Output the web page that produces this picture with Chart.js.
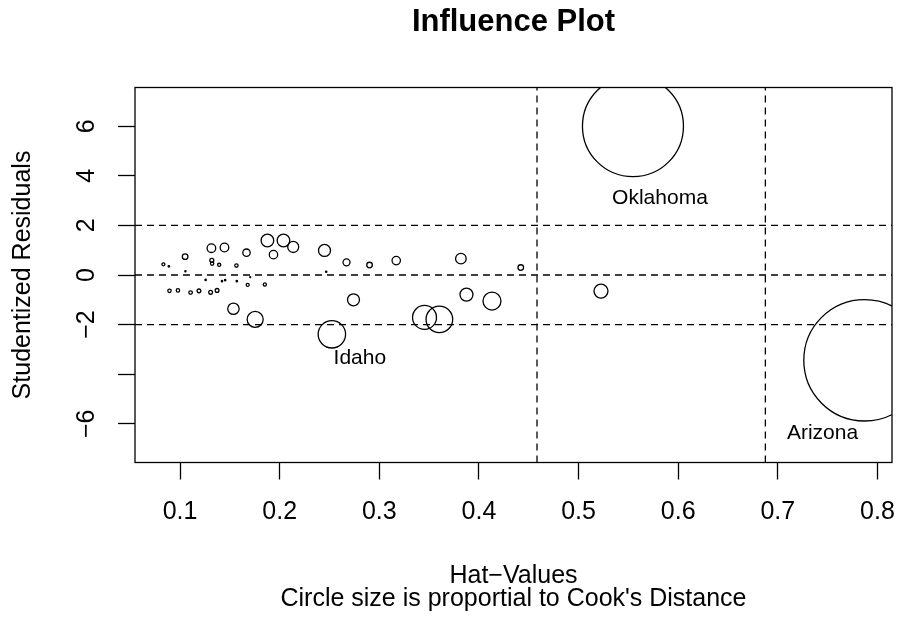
<!DOCTYPE html>
<html>
<head>
<meta charset="utf-8">
<script src="https://cdn.jsdelivr.net/npm/chart.js@4.4.0/dist/chart.umd.min.js"></script>
<style>
html, body { margin: 0; padding: 0; background: #ffffff; }
#wrap { width: 901px; height: 628px; position: relative; }
</style>
</head>
<body>
<div id="wrap"><canvas id="c" width="901" height="628"></canvas></div>
<script>
// ---- data ----
const hatValues = [
  0.0833, 0.0888, 0.0894, 0.0979, 0.1051, 0.1054, 0.1106, 0.1190, 0.1257, 0.1307,
  0.1315, 0.1319, 0.1322, 0.1372, 0.1393, 0.1421, 0.1446, 0.1453, 0.1536, 0.1566,
  0.1570, 0.1667, 0.1679, 0.1704, 0.1754, 0.1851, 0.1877, 0.1938, 0.2038, 0.2136,
  0.2450, 0.2467, 0.2524, 0.2671, 0.2741, 0.2902, 0.3170, 0.3454, 0.3603, 0.3819,
  0.3875, 0.4131, 0.4420, 0.5225, 0.5546, 0.7870
];
const studentizedResiduals = [
  0.43, 0.35, -0.64, -0.62, 0.74, 0.15, -0.71, -0.64, -0.20, -0.70,
  1.08, 0.59, 0.46, -0.62, 0.41, -0.25, 1.11, -0.21, -1.36, 0.38,
  -0.25, 0.90, -0.40, -0.09, -1.79, -0.38, 1.39, 0.82, 1.39, 1.13,
  0.99, 0.13, -2.39, 0.51, -1.00, 0.40, 0.58, -1.71, -1.79, 0.66,
  -0.79, -1.05, 0.30, -0.65, 6.00, -3.44
];
const cooksDistance = [
  0.0019, 0.0005, 0.0024, 0.0024, 0.0066, 0.0003, 0.0027, 0.0030, 0.0004, 0.0030,
  0.0155, 0.0033, 0.0024, 0.0030, 0.0021, 0.0004, 0.0155, 0.0004, 0.0272, 0.0024,
  0.0004, 0.0114, 0.0019, 0.0002, 0.0535, 0.0021, 0.0332, 0.0147, 0.0332, 0.0253,
  0.0301, 0.0004, 0.1570, 0.0102, 0.0301, 0.0066, 0.0147, 0.1200, 0.1480, 0.0235,
  0.0353, 0.0677, 0.0066, 0.0410, 2.1320, 3.0800
];
const pointNames = [
  '', '', '', '', '', '', '', '', '', '',
  '', '', '', '', '', '', '', '', '', '',
  '', '', '', '', '', '', '', '', '', '',
  '', '', 'Idaho', '', '', '', '', '', '', '',
  '', '', '', '', 'Oklahoma', 'Arizona'
];
const xTickValues = [0.1, 0.2, 0.3, 0.4, 0.5, 0.6, 0.7, 0.8];
const yTickValues = [-6, -4, -2, 0, 2, 4, 6];
const yTickLabels = ['\u22126', '', '\u22122', '0', '2', '4', '6'];
const hatCutoffs = [0.4583, 0.6875];
const residualCutoffs = [-2, 0, 2];
const chartTitle = 'Influence Plot';
const xAxisTitle = ['Hat\u2212Values', "Circle size is proportial to Cook's Distance"];
const yAxisTitle = 'Studentized Residuals';

// ---- styling / layout ----
const FONT = '"Liberation Sans", Arial, Helvetica, sans-serif';
const X_MIN = 0.0548, X_MAX = 0.8146, Y_MIN = -7.56, Y_MAX = 7.56;
const MAX_RADIUS = 60.7;
const labelOffsets = { Oklahoma: [27, 72], Arizona: [-42, 73], Idaho: [28, 24] };
const LW = 1.3;

const maxCook = Math.max(...cooksDistance);
const bubbles = hatValues.map((h, i) => ({
  x: h, y: studentizedResiduals[i],
  r: MAX_RADIUS * Math.sqrt(cooksDistance[i] / maxCook)
}));

const refLine = (pts) => ({
  type: 'line', data: pts, borderColor: '#000', borderWidth: 1.3,
  borderDash: [7, 5], pointRadius: 0, fill: false, tension: 0, clip: 0, order: 2
});
const refDatasets = [
  ...hatCutoffs.map(v => refLine([{x: v, y: Y_MIN}, {x: v, y: Y_MAX}])),
  ...residualCutoffs.map(v => refLine([{x: X_MIN, y: v}, {x: X_MAX, y: v}]))
];

const boxPlugin = {
  id: 'box',
  afterDraw(chart) {
    const a = chart.chartArea, ctx = chart.ctx;
    ctx.save();
    ctx.strokeStyle = '#000';
    ctx.lineWidth = LW;
    ctx.strokeRect(a.left, a.top, a.right - a.left, a.bottom - a.top);
    ctx.restore();
  }
};
const labelPlugin = {
  id: 'pointLabels',
  afterDatasetsDraw(chart) {
    const meta = chart.getDatasetMeta(0);
    const ctx = chart.ctx;
    ctx.save();
    ctx.fillStyle = '#000';
    ctx.font = '21px ' + FONT;
    ctx.textAlign = 'center';
    ctx.textBaseline = 'middle';
    pointNames.forEach((name, i) => {
      if (!name) return;
      const el = meta.data[i];
      const off = labelOffsets[name] || [0, 0];
      ctx.fillText(name, el.x + off[0], el.y + off[1]);
    });
    ctx.restore();
  }
};

new Chart(document.getElementById('c'), {
  type: 'bubble',
  data: {
    datasets: [
      {
        type: 'bubble',
        data: bubbles,
        backgroundColor: 'rgba(0,0,0,0)',
        borderColor: '#000',
        borderWidth: LW,
        hoverBorderWidth: LW,
        hoverRadius: 0,
        clip: 0,
        order: 1
      },
      ...refDatasets
    ]
  },
  options: {
    responsive: false,
    animation: false,
    events: [],
    layout: { autoPadding: false, padding: { left: 0, right: 9, top: 0, bottom: 0 } },
    plugins: {
      legend: { display: false },
      tooltip: { enabled: false },
      title: {
        display: true,
        fullSize: false,
        text: chartTitle,
        color: '#000',
        font: { family: FONT, size: 31, weight: 'bold', lineHeight: 1.2 },
        padding: { top: 4, bottom: 46.3 }
      }
    },
    scales: {
      x: {
        type: 'linear',
        position: 'bottom',
        min: X_MIN, max: X_MAX,
        afterBuildTicks: s => { s.ticks = xTickValues.map(v => ({ value: v })); },
        afterFit: s => { s.height = 165.5; s.paddingLeft = 0; s.paddingRight = 0; },
        ticks: {
          autoSkip: false, maxRotation: 0, minRotation: 0,
          color: '#000', padding: 18,
          font: { family: FONT, size: 25, lineHeight: 1.2 },
          callback: v => v.toFixed(1)
        },
        grid: { display: true, drawOnChartArea: false, drawTicks: true, tickLength: 17, tickColor: '#000', tickWidth: LW },
        border: { display: false },
        title: {
          display: true, text: xAxisTitle, color: '#000',
          font: { family: FONT, size: 25, lineHeight: '23px' },
          padding: { top: 0, bottom: 17.5 }
        }
      },
      y: {
        type: 'linear',
        position: 'left',
        min: Y_MIN, max: Y_MAX,
        afterBuildTicks: s => { s.ticks = yTickValues.map(v => ({ value: v })); },
        afterFit: s => { s.width = 135; s.paddingTop = 0; s.paddingBottom = 0; },
        ticks: {
          autoSkip: false, minRotation: 90, maxRotation: 90, crossAlign: 'center',
          color: '#000', padding: 17,
          font: { family: FONT, size: 25, lineHeight: 1.2 },
          callback: (v, i) => yTickLabels[yTickValues.indexOf(v)]
        },
        grid: { display: true, drawOnChartArea: false, drawTicks: true, tickLength: 17, tickColor: '#000', tickWidth: LW },
        border: { display: false },
        title: {
          display: true, text: yAxisTitle, color: '#000',
          font: { family: FONT, size: 25, lineHeight: 1.2 },
          padding: { top: 8, bottom: 0 }
        }
      }
    }
  },
  plugins: [boxPlugin, labelPlugin]
});
</script>
</body>
</html>
